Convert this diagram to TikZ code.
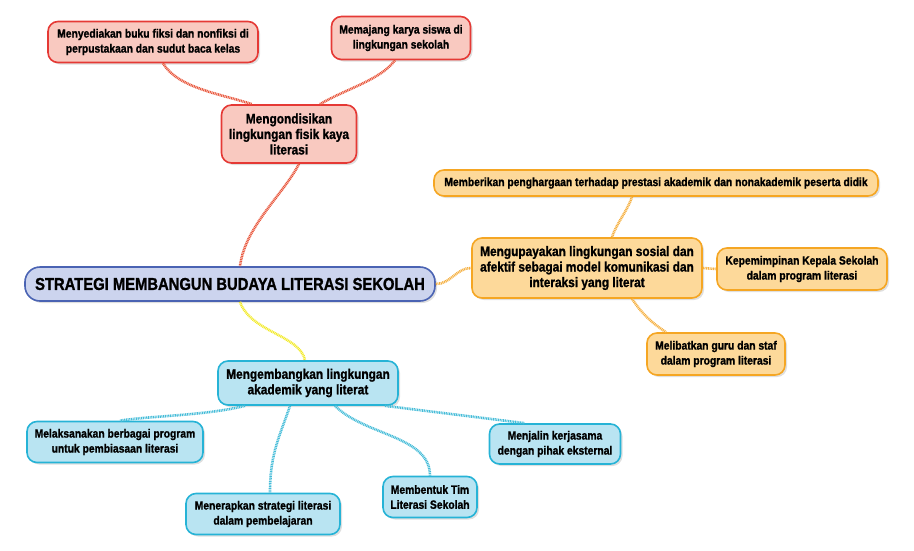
\documentclass[tikz,border=0pt]{standalone}
\usepackage{fontspec}
\setmainfont{Liberation Sans}[FakeStretch=0.86, BoldFeatures={FakeBold=1.2}]
\usetikzlibrary{shadows}
\definecolor{rfill}{HTML}{F9C9C0}
\definecolor{rdraw}{HTML}{E53935}
\definecolor{ofill}{HTML}{FDD99A}
\definecolor{odraw}{HTML}{F5A623}
\definecolor{bfill}{HTML}{B9E4F2}
\definecolor{bdraw}{HTML}{26B3D6}
\definecolor{cfill}{HTML}{CCD4EE}
\definecolor{cdraw}{HTML}{4A63B3}
\definecolor{yline}{HTML}{F2EA2A}
\definecolor{rline}{HTML}{E8553A}
\definecolor{oline}{HTML}{F5B041}
\definecolor{bline}{HTML}{45BCD8}
\tikzset{
  box/.style={rounded corners=10pt, line width=1.6pt, align=center, inner sep=2pt,
    font=\bfseries, text=black,
    drop shadow={opacity=0.25, shadow xshift=2pt, shadow yshift=-2pt}},
  leaf/.style={box, font=\bfseries\fontsize{12}{15}\selectfont},
  mainn/.style={box, font=\bfseries\fontsize{13.8}{15.5}\selectfont},
  redb/.style={fill=rfill, draw=rdraw},
  orab/.style={fill=ofill, draw=odraw},
  blub/.style={fill=bfill, draw=bdraw},
  link/.style={line width=2.6pt, dash pattern=on 1pt off 0.7pt},
  rootbox/.style={box, fill=cfill, draw=cdraw, rounded corners=15pt,
    font=\bfseries\fontsize{17.2}{19}\selectfont, minimum width=410pt, minimum height=34pt},
}
\begin{document}
\begin{tikzpicture}[x=1pt,y=-1pt]
\useasboundingbox (0,0) rectangle (914,550);
% nodes
\node[rootbox] (root) at (230,284) {STRATEGI MEMBANGUN BUDAYA LITERASI SEKOLAH};

\node[mainn, redb, minimum width=135pt, minimum height=58pt] (rm) at (289,134) {Mengondisikan\\lingkungan fisik kaya\\literasi};
\node[leaf, redb, minimum width=210pt, minimum height=41pt] (r1) at (153,42) {Menyediakan buku fiksi dan nonfiksi di\\perpustakaan dan sudut baca kelas};
\node[leaf, redb, minimum width=139pt, minimum height=43pt] (r2) at (401,38) {Memajang karya siswa di\\lingkungan sekolah};

\node[mainn, orab, minimum width=230pt, minimum height=60pt] (om) at (587,268) {Mengupayakan lingkungan sosial dan\\afektif sebagai model komunikasi dan\\interaksi yang literat};
\node[leaf, orab, minimum width=444pt, minimum height=26pt] (o1) at (656,183) {Memberikan penghargaan terhadap prestasi akademik dan nonakademik peserta didik};
\node[leaf, orab, minimum width=170pt, minimum height=42pt] (o2) at (802,269) {Kepemimpinan Kepala Sekolah\\dalam program literasi};
\node[leaf, orab, minimum width=138pt, minimum height=42pt] (o3) at (716,354) {Melibatkan guru dan staf\\dalam program literasi};

\node[mainn, blub, minimum width=180pt, minimum height=44pt] (bm) at (308,383) {Mengembangkan lingkungan\\akademik yang literat};
\node[leaf, blub, minimum width=176pt, minimum height=41pt] (b1) at (115,442) {Melaksanakan berbagai program\\untuk pembiasaan literasi};
\node[leaf, blub, minimum width=154pt, minimum height=41pt] (b2) at (263,514) {Menerapkan strategi literasi\\dalam pembelajaran};
\node[leaf, blub, minimum width=94pt, minimum height=41pt] (b3) at (430,497) {Membentuk Tim\\Literasi Sekolah};
\node[leaf, blub, minimum width=131pt, minimum height=40pt] (b4) at (555,444) {Menjalin kerjasama\\dengan pihak eksternal};

% connectors
\draw[link, rline] ([xshift=10pt]rm.south) .. controls +(-15,30) and +(5,-40) .. ([xshift=10pt]root.north);
\draw[link, rline] ([xshift=10pt]r1.south) .. controls +(15,25) and +(-30,-10) .. ([xshift=-37pt]rm.north);
\draw[link, rline] ([xshift=-6pt]r2.south) .. controls +(-15,20) and +(25,-15) .. ([xshift=31pt]rm.north);

\draw[link, oline] (root.east) .. controls +(15,0) and +(-15,0) .. (om.west);
\draw[link, oline] ([xshift=25pt]om.north) .. controls +(5,-15) and +(-5,15) .. ([xshift=-24pt]o1.south);
\draw[link, oline] (om.east) -- (o2.west);
\draw[link, oline] ([xshift=45pt]om.south) .. controls +(10,15) and +(-15,-10) .. ([xshift=-50pt]o3.north);

\draw[link, yline] ([xshift=10pt]root.south) .. controls +(10,30) and +(-5,-25) .. ([xshift=-3pt]bm.north);

\draw[link, bline] ([xshift=-63pt]bm.south) .. controls +(-40,10) and +(30,-5) .. ([xshift=5pt]b1.north);
\draw[link, bline] ([xshift=-18pt]bm.south) .. controls +(-10,30) and +(0,-40) .. ([xshift=7pt]b2.north);
\draw[link, bline] ([xshift=27pt]bm.south) .. controls +(30,30) and +(0,-40) .. ([xshift=0pt]b3.north);
\draw[link, bline] ([xshift=77pt]bm.south) .. controls +(40,5) and +(-40,-5) .. ([xshift=-30pt]b4.north);
\end{tikzpicture}
\end{document}
